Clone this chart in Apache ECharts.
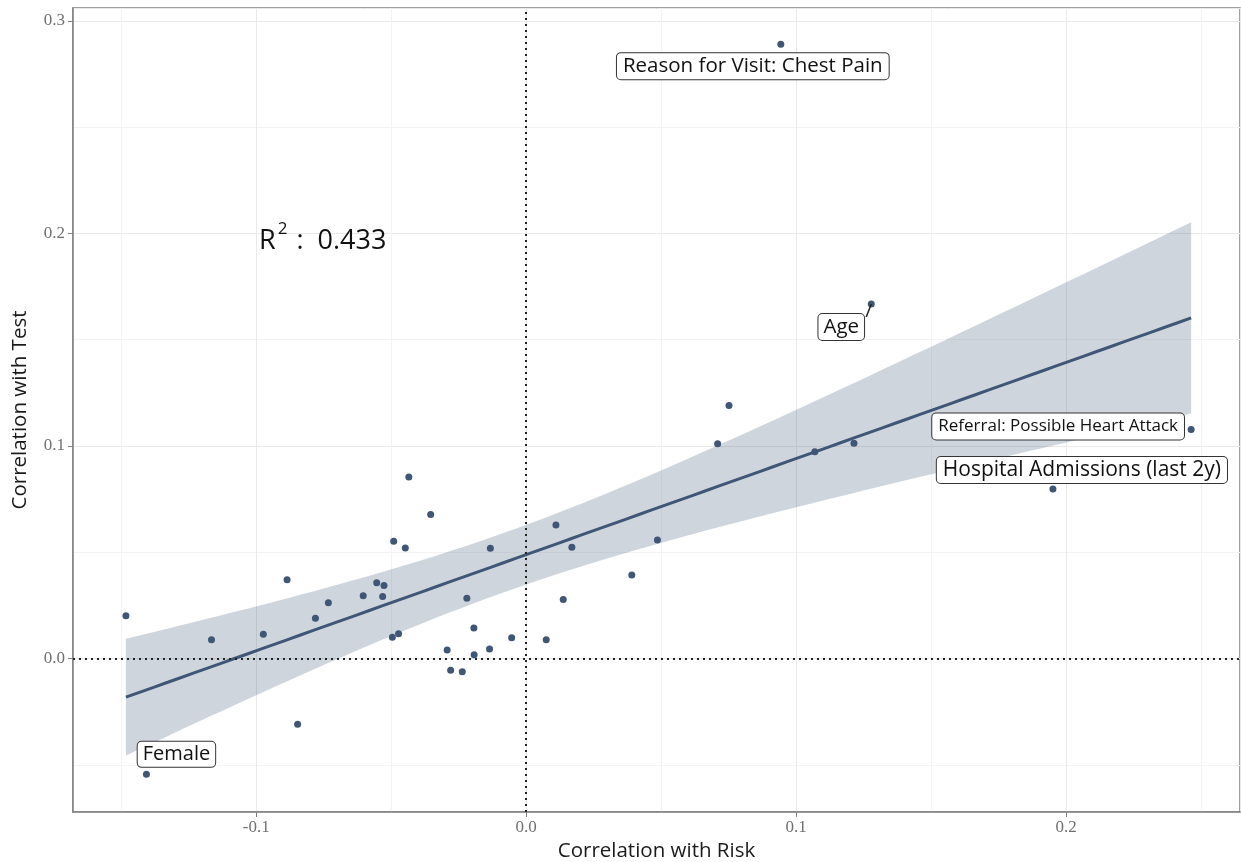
<!DOCTYPE html>
<html><head><meta charset="utf-8">
<script src="https://cdn.jsdelivr.net/npm/echarts@6/dist/echarts.min.js"></script>
<style>html,body{margin:0;padding:0;background:#fff}#c{width:1241px;height:862px}</style>
</head><body><div id="c"></div>
<script>
// ---- data ----
const riskCorr = [-0.1483,-0.1407,-0.1166,-0.0974,-0.0886,-0.0847,-0.0781,-0.0733,-0.0604,-0.0554,
  -0.0527,-0.0532,-0.0491,-0.0448,-0.0435,-0.0354,-0.0496,-0.0473,-0.0220,-0.0293,
  -0.0280,-0.0237,-0.0194,-0.0193,-0.0136,-0.0133,-0.0054,0.0074,0.0110,0.0169,
  0.0137,0.0391,0.0486,0.0709,0.0751,0.0943,0.1069,0.1214,0.1278,0.1951,0.2463];
const testCorr = [0.0201,-0.0545,0.0088,0.0114,0.0370,-0.0309,0.0189,0.0262,0.0295,0.0356,
  0.0344,0.0292,0.0552,0.0520,0.0854,0.0677,0.0100,0.0117,0.0284,0.0040,
  -0.0055,-0.0062,0.0143,0.0018,0.0045,0.0519,0.0098,0.0088,0.0628,0.0523,
  0.0278,0.0393,0.0558,0.1010,0.1190,0.2890,0.0973,0.1013,0.1668,0.0797,0.1077];
const pointLabels = ['','Female','','','','','','','','',
  '','','','','','','','','','',
  '','','','','','','','','','',
  '','','','','','Reason for Visit: Chest Pain','','','Age','Hospital Admissions (last 2y)','Referral: Possible Heart Attack'];
const r2Value = '0.433';
const xTitle = 'Correlation with Risk';
const yTitle = 'Correlation with Test';
const xTickLabels = ['-0.1','0.0','0.1','0.2'];
const yTickLabels = ['0.0','0.1','0.2','0.3'];

// ---- styling ----
const dotColor = '#3f5677';
const textFont = 'Open Sans';
const labelOpts = {
  'Reason for Visit: Chest Pain': {offset:[-28,22], fontSize:20.5, padding:[3,6,2,6]},
  'Age': {offset:[-30,23], fontSize:20.5, padding:[3,5,2,5], segment:true},
  'Referral: Possible Heart Attack': {offset:[-133,-3], fontSize:17, padding:[5,6,4,6]},
  'Hospital Admissions (last 2y)': {offset:[29,-19], fontSize:21, padding:[3,6,2,6]},
  'Female': {offset:[30,-20], fontSize:20, padding:[3,5,2,5]}
};

// ---- linear fit with 95% confidence band ----
const n = riskCorr.length;
const xbar = riskCorr.reduce((a,b)=>a+b,0)/n;
const ybar = testCorr.reduce((a,b)=>a+b,0)/n;
let sxx=0, sxy=0;
for (let i=0;i<n;i++){ sxx += (riskCorr[i]-xbar)**2; sxy += (riskCorr[i]-xbar)*(testCorr[i]-ybar); }
const slope = sxy/sxx, icpt = ybar - slope*xbar;
let sse = 0;
for (let i=0;i<n;i++){ sse += (testCorr[i]-(icpt+slope*riskCorr[i]))**2; }
const sRes = Math.sqrt(sse/(n-2));
const tCrit = 2.0227; // df = 39
const xMin = Math.min(...riskCorr), xMax = Math.max(...riskCorr);
const fitLine = [], band = [];
for (let k=0;k<80;k++){
  const x = xMin + (xMax-xMin)*k/79;
  const y = icpt + slope*x;
  const se = sRes*Math.sqrt(1/n + (x-xbar)**2/sxx);
  fitLine.push([x,y]);
  band.push([x, y - tCrit*se, y + tCrit*se]);
}

const fmt = (list) => (v) => { const s = v.toFixed(1); return list.indexOf(s) >= 0 ? s : ''; };
const points = riskCorr.map((x,i)=>[x, testCorr[i]]);

const axisCommon = {
  type:'value',
  axisLine:{show:true, onZero:false, lineStyle:{color:'#808080', width:1.5}},
  axisTick:{show:true, length:5, lineStyle:{color:'#808080', width:1}},
  splitLine:{show:true, lineStyle:{color:'#e9e9e9', width:1}},
  minorTick:{show:false, splitNumber:2},
  minorSplitLine:{show:true, lineStyle:{color:'#f3f3f3', width:1}},
  nameLocation:'middle',
  nameTextStyle:{fontFamily:textFont, fontSize:20.5, color:'#1a1a1a'}
};
const tickLabel = {showMinLabel:false, showMaxLabel:false, color:'#707070', fontFamily:'Liberation Serif', fontSize:17};

const chart = echarts.init(document.getElementById('c'), null, {renderer:'canvas'});
chart.setOption({
  animation:false,
  backgroundColor:'#fff',
  grid:{left:73, right:1, top:8, bottom:50, show:true, borderColor:'#808080', borderWidth:1.5,
        containLabel:false, outerBoundsMode:'none'},
  xAxis: Object.assign({}, axisCommon, {
    min:-0.1679, max:0.2644, splitNumber:4,
    name:xTitle, nameGap:25,
    axisLabel:Object.assign({formatter:fmt(xTickLabels), margin:7}, tickLabel)
  }),
  yAxis: Object.assign({}, axisCommon, {
    min:-0.0722, max:0.3060, splitNumber:4,
    name:yTitle, nameGap:42,
    axisLabel:Object.assign({formatter:fmt(yTickLabels), margin:8}, tickLabel)
  }),
  series:[
    {type:'custom', data:band, silent:true, z:1, encode:{x:0, y:[1,2]},
     renderItem:function(params, api){
       if (params.dataIndex !== 0) return null;
       const upper = band.map(d => api.coord([d[0], d[2]]));
       const lower = band.map(d => api.coord([d[0], d[1]])).reverse();
       return {type:'polygon', shape:{points:upper.concat(lower)},
               style:{fill:dotColor, opacity:0.25}};
     }},
    {type:'line', data:fitLine, symbol:'none', silent:true, z:3,
     lineStyle:{color:dotColor, width:3}},
    {type:'scatter', data:points, symbol:'circle', symbolSize:7, z:4,
     itemStyle:{color:dotColor, opacity:1},
     markLine:{silent:true, symbol:'none', label:{show:false}, animation:false,
       lineStyle:{type:[2,4], color:'#222', width:2},
       data:[{xAxis:0},{yAxis:0}]}}
  ]
});

// ---- annotations positioned through the chart's own coordinate system ----
const graphics = [{
  type:'text', x:259, y:221, z:100,
  style:{
    text:'{r|R}{s|2}{r| :  ' + r2Value + '}',
    rich:{
      r:{fontFamily:textFont, fontSize:27, fill:'#111', lineHeight:34, verticalAlign:'bottom'},
      s:{fontFamily:textFont, fontSize:17, fill:'#111', lineHeight:34, verticalAlign:'top', padding:[0,2,15,2]}
    }
  }
}];
pointLabels.forEach((name, i) => {
  const o = labelOpts[name];
  if (!o) return;
  const p = chart.convertToPixel({seriesIndex:2}, [riskCorr[i], testCorr[i]]);
  const cx = p[0] + o.offset[0], cy = p[1] + o.offset[1];
  if (o.segment) {
    graphics.push({type:'line', z:99, shape:{x1:p[0], y1:p[1], x2:p[0]-5, y2:p[1]+13},
      style:{stroke:'#222', lineWidth:1.5}});
  }
  graphics.push({type:'text', x:cx, y:cy, z:100,
    style:{text:name, fontFamily:textFont, fontSize:o.fontSize, fill:'#111',
      align:'center', verticalAlign:'middle',
      backgroundColor:'#fff', borderColor:'#333', borderWidth:1, borderRadius:4, padding:o.padding}});
});
chart.setOption({graphic:graphics});
</script>
</body></html>
